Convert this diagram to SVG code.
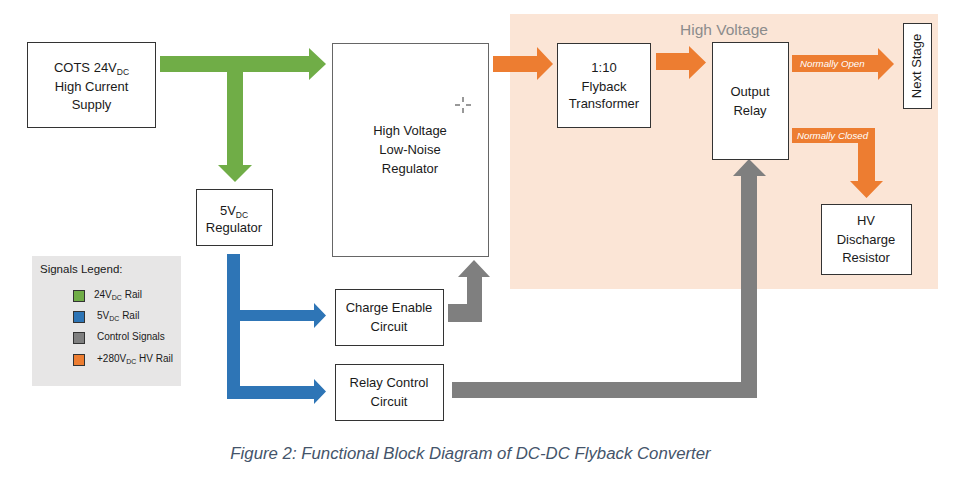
<svg xmlns="http://www.w3.org/2000/svg" width="956" height="485" viewBox="0 0 956 485">
<style>
text{font-family:"Liberation Sans",Arial,sans-serif;font-size:13px;fill:#1a1a1a;text-anchor:middle}
.box{fill:#fff;stroke:#333;stroke-width:1}
.sub{font-size:8.5px}
.lg{font-size:10px;text-anchor:start}
.lsub{font-size:7px}
.arrowlbl{font-size:9.7px;font-style:italic;fill:#fff;text-anchor:start}
</style>
<rect x="0" y="0" width="956" height="485" fill="#fff"/>
<rect id="hv-zone" x="510" y="14" width="428" height="275" fill="#fbe5d6"/>
<text x="724" y="35" style="font-size:15.5px;fill:#8c8c8c">High Voltage</text>

<g id="connectors">
<polygon fill="#70ad47" points="160,56 309,56 309,48 326,64 309,80 309,72 243,72 243,165 252,165 235,182 218,165 227,165 227,72 160,72"/>
<polygon fill="#2e75b6" points="227,254 240,254 240,310 314,310 314,303 326,315.5 314,328 314,321 240,321 240,386 314,386 314,379 326,391.5 314,404 314,399 227,399"/>
<polygon fill="#7f7f7f" points="448,304 467,304 467,277 458,277 474,260 490,277 482,277 482,322 448,322"/>
<polygon fill="#7f7f7f" points="452,382 741,382 741,176 733,176 749,159 766,176 757,176 757,398 452,398"/>
<polygon fill="#ed7d31" points="493,56 537,56 537,47 553,64 537,80 537,72 493,72"/>
<polygon fill="#ed7d31" points="656,53 689,53 689,46 706,62.5 689,79 689,70 656,70"/>
<polygon fill="#ed7d31" points="792,55 878,55 878,48 894,64 878,80 878,72 792,72"/>
<text class="arrowlbl" x="800" y="67">Normally Open</text>
<polygon fill="#ed7d31" points="792,128 875,128 875,181 883,181 866.5,198 850,181 858,181 858,143 792,143"/>
<text class="arrowlbl" x="797" y="139">Normally Closed</text>
</g>

<g id="cots">
<rect class="box" x="27.5" y="42.5" width="128" height="85"/>
<text x="91.5" y="72">COTS 24V<tspan class="sub" dy="3">DC</tspan></text>
<text x="91.5" y="91">High Current</text>
<text x="91.5" y="109">Supply</text>
</g>

<g id="reg5v">
<rect class="box" x="196.5" y="189.5" width="76" height="56"/>
<text x="234" y="215">5V<tspan class="sub" dy="3">DC</tspan></text>
<text x="234" y="232">Regulator</text>
</g>

<g id="hvreg">
<rect class="box" x="332.5" y="43.5" width="156" height="213" style="stroke:#666"/>
<path d="M455,105h5M466,105h5M463,97v5M463,108v5" stroke="#333" stroke-width="1" fill="none"/>
<text x="410" y="135">High Voltage</text>
<text x="410" y="154">Low-Noise</text>
<text x="410" y="173">Regulator</text>
</g>

<g id="flyback">
<rect class="box" x="557.5" y="43.5" width="93" height="84"/>
<text x="604" y="72">1:10</text>
<text x="604" y="91">Flyback</text>
<text x="604" y="108">Transformer</text>
</g>

<g id="relay">
<rect class="box" x="712.5" y="42.5" width="76" height="117"/>
<text x="750" y="96">Output</text>
<text x="750" y="115">Relay</text>
</g>

<g id="nextstage">
<rect class="box" x="903.5" y="23.5" width="28" height="85"/>
<text transform="translate(921,66) rotate(-90)">Next Stage</text>
</g>

<g id="discharge">
<rect class="box" x="821.5" y="204.5" width="90" height="70"/>
<text x="866" y="225">HV</text>
<text x="866" y="244">Discharge</text>
<text x="866" y="262">Resistor</text>
</g>

<g id="charge">
<rect class="box" x="335.5" y="289.5" width="108" height="56"/>
<text x="389" y="312">Charge Enable</text>
<text x="389" y="331">Circuit</text>
</g>

<g id="relayctl">
<rect class="box" x="335.5" y="364.5" width="108" height="56"/>
<text x="389" y="387">Relay Control</text>
<text x="389" y="406">Circuit</text>
</g>

<g id="legend">
<rect x="32" y="256" width="149" height="130" fill="#e7e6e6"/>
<text x="40" y="273" style="font-size:11.5px;text-anchor:start">Signals Legend:</text>
<rect x="73.5" y="290.5" width="11" height="11" fill="#70ad47" stroke="#333"/>
<rect x="73.5" y="311.5" width="11" height="11" fill="#2e75b6" stroke="#333"/>
<rect x="73.5" y="332.5" width="11" height="11" fill="#7f7f7f" stroke="#333"/>
<rect x="73.5" y="354.5" width="11" height="11" fill="#ed7d31" stroke="#333"/>
<text class="lg" x="94" y="298">24V<tspan class="lsub" dy="2">DC</tspan><tspan dy="-2"> Rail</tspan></text>
<text class="lg" x="97" y="319">5V<tspan class="lsub" dy="2">DC</tspan><tspan dy="-2"> Rail</tspan></text>
<text class="lg" x="97" y="340">Control Signals</text>
<text class="lg" x="97" y="362">+280V<tspan class="lsub" dy="2">DC</tspan><tspan dy="-2"> HV Rail</tspan></text>
</g>

<text x="470.5" y="459" style="font-size:16.8px;font-style:italic;fill:#44546a">Figure 2: Functional Block Diagram of DC-DC Flyback Converter</text>
</svg>
